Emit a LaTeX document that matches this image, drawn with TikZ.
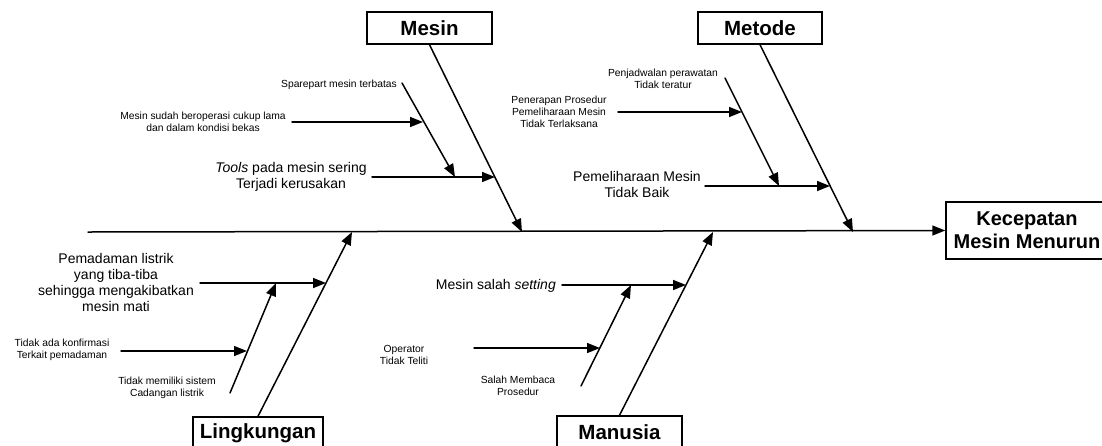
\documentclass[tikz,border=0pt]{standalone}
\usepackage{fontspec}
\setmainfont{Liberation Sans}
\usetikzlibrary{arrows.meta}

\begin{document}
\begin{tikzpicture}[x=1pt,y=-1pt,line cap=round,
  bone/.style={line width=1.5pt},
  panah/.style={line width=1.5pt,-{Triangle[length=13pt,width=10pt]}},
  kategori/.style={draw,line width=1.5pt,inner sep=0pt,minimum height=32pt,font=\fontsize{20.5}{23}\selectfont\bfseries},
  teksbesar/.style={inner sep=0pt,align=center,font=\fontsize{14}{16}\selectfont},
  tekskecil/.style={inner sep=0pt,align=center,font=\fontsize{10.3}{12}\selectfont}]
\clip (0,0) rectangle (1102,445);
% kotak kategori dan akibat
\node[kategori,minimum width=125pt] (mesin) at (429.5,28) {Mesin};
\node[kategori,minimum width=124pt] (metode) at (760,28) {Metode};
\node[kategori,minimum width=130pt,minimum height=33pt] (lingkungan) at (258,433.5) {Lingkungan};
\node[kategori,minimum width=125pt] (manusia) at (619.5,432) {Manusia};
\node[kategori,minimum width=162pt,minimum height=57pt,align=center,
  font=\fontsize{20}{23}\selectfont\bfseries] (akibat) at (1027,230.5) {Kecepatan\\Mesin Menurun};
% tulang utama
\coordinate (awal) at (88,232);
\draw[panah] (awal) -- (akibat.west);
\coordinate (tMesin) at (522,232);
\coordinate (tMetode) at (853,232);
\coordinate (tLingkungan) at (352,232);
\coordinate (tManusia) at (713,232);
\draw[panah] (mesin.south) -- (tMesin);
\draw[panah] (metode.south) -- (tMetode);
\draw[panah] (lingkungan.north) -- (tLingkungan);
\draw[panah] (manusia.north) -- (tManusia);
% Mesin
\node[tekskecil,anchor=base east] (spare) at (397,87) {Sparepart mesin terbatas};
\node[tekskecil] (lama) at (203,122) {Mesin sudah beroperasi cukup lama\\dan dalam kondisi bekas};
\node[teksbesar] (tools) at (291,177) {\textit{Tools} pada mesin sering\\Terjadi kerusakan};
\coordinate (sMesin) at (402,83);
\coordinate (sMesinT) at (455,177);
\coordinate (aLama) at (292,122);
\coordinate (bLama) at (423,122);
\coordinate (aTools) at (372,177);
\coordinate (bTools) at (495,177);
\draw[panah] (sMesin) -- (sMesinT);
\draw[panah] (aLama) -- (bLama);
\draw[panah] (aTools) -- (bTools);
% Metode
\node[tekskecil] (jadwal) at (663,79) {Penjadwalan perawatan\\Tidak teratur};
\node[tekskecil] (prosedur) at (559,112) {Penerapan Prosedur\\Pemeliharaan Mesin\\Tidak Terlaksana};
\node[teksbesar] (pelihara) at (637,184) {Pemeliharaan Mesin\\Tidak Baik};
\coordinate (sMetode) at (725,78);
\coordinate (sMetodeT) at (779,186);
\coordinate (aProsedur) at (618,112);
\coordinate (bProsedur) at (742,112);
\coordinate (aPelihara) at (705,186);
\coordinate (bPelihara) at (830,186);
\draw[panah] (sMetode) -- (sMetodeT);
\draw[panah] (aProsedur) -- (bProsedur);
\draw[panah] (aPelihara) -- (bPelihara);
% Lingkungan
\node[teksbesar] (padam) at (116,282.5) {Pemadaman listrik\\yang tiba-tiba\\sehingga mengakibatkan\\mesin mati};
\node[tekskecil] (konfirmasi) at (62,350) {Tidak ada konfirmasi\\Terkait pemadaman};
\node[tekskecil] (cadangan) at (167,387.5) {Tidak memiliki sistem\\Cadangan listrik};
\coordinate (sLingkungan) at (230,393);
\coordinate (sLingkunganT) at (276,283);
\coordinate (aPadam) at (200,283);
\coordinate (bPadam) at (326,283);
\coordinate (aKonfirmasi) at (121,351);
\coordinate (bKonfirmasi) at (247,351);
\draw[panah] (sLingkungan) -- (sLingkunganT);
\draw[panah] (aPadam) -- (bPadam);
\draw[panah] (aKonfirmasi) -- (bKonfirmasi);
% Manusia
\node[teksbesar,anchor=base east] (setting) at (556,289) {Mesin salah \textit{setting}};
\node[tekskecil] (operator) at (404,355) {Operator\\Tidak Teliti};
\node[tekskecil] (membaca) at (518,385.5) {Salah Membaca\\Prosedur};
\coordinate (sManusia) at (581,386);
\coordinate (sManusiaT) at (631,285);
\coordinate (aSetting) at (562,285);
\coordinate (bSetting) at (686,285);
\coordinate (aOperator) at (474,348);
\coordinate (bOperator) at (600,348);
\draw[panah] (sManusia) -- (sManusiaT);
\draw[panah] (aSetting) -- (bSetting);
\draw[panah] (aOperator) -- (bOperator);
\end{tikzpicture}
\end{document}
